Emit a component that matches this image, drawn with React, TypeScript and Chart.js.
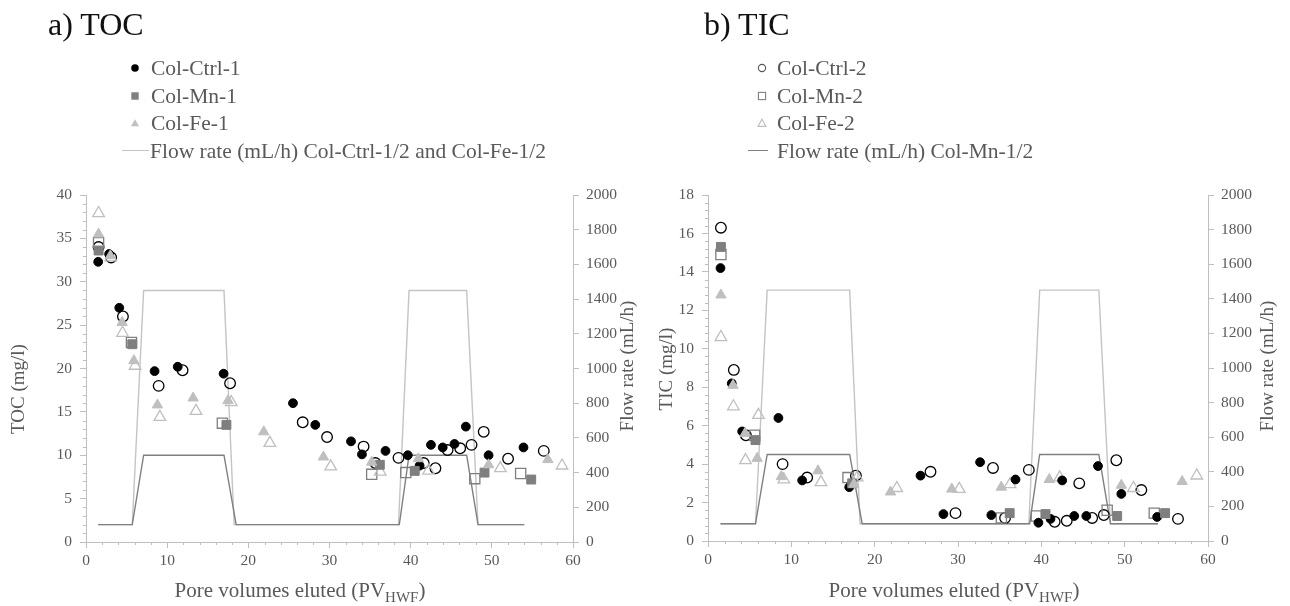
import React, { useEffect, useRef } from "react";
import { Chart, registerables } from "chart.js";

Chart.register(...registerables);

const FONT = "'Liberation Serif', 'Times New Roman', serif";
const TEXT_GREY = "#595959";
const AXIS_GREY = "#bfbfbf";
const BLACK = "#000000";
const MID_GREY = "#7f7f7f";
const LIGHT_GREY = "#bfbfbf";

// ---------- data: pore volumes eluted (x) and concentrations ----------
const ctrl1X = [1.5, 2.85, 4.1, 8.45, 11.3, 16.95, 25.5, 28.25, 32.65, 34.0, 36.9, 39.65, 41.1, 42.5, 43.95, 45.4, 46.8, 49.6, 53.9];
const ctrl1TOC = [32.3, 33.2, 27.0, 19.7, 20.2, 19.4, 16.0, 13.5, 11.6, 10.1, 10.5, 10.0, 8.8, 11.2, 10.9, 11.3, 13.3, 10.0, 10.9];
const ctrl1TIC = [14.2, 8.2, 5.7, 6.4, 3.15, 2.8, 3.4, 1.4, 4.1, 1.35, 3.2, 0.95, 1.15, 3.15, 1.3, 1.3, 3.9, 2.45, 1.25];

const ctrl2X = [1.55, 3.1, 4.55, 8.95, 11.9, 17.75, 26.7, 29.7, 34.2, 35.65, 38.5, 41.6, 43.05, 44.55, 46.1, 47.5, 49.0, 52.0, 56.4];
const ctrl2TOC = [34.0, 32.8, 26.0, 18.0, 19.8, 18.3, 13.8, 12.1, 11.0, 9.1, 9.7, 9.1, 8.5, 10.6, 10.8, 11.2, 12.7, 9.6, 10.5];
const ctrl2TIC = [16.3, 8.9, 5.5, 4.0, 3.3, 3.4, 3.6, 1.45, 3.8, 1.2, 3.7, 1.0, 1.05, 3.0, 1.2, 1.35, 4.2, 2.65, 1.15];

const mn1X = [1.55, 5.7, 17.3, 36.2, 40.5, 49.1, 54.85];
const mn1TOC = [33.6, 22.8, 13.5, 8.9, 8.2, 8.0, 7.2];
const mn1TIC = [15.3, 5.25, 3.0, 1.45, 1.4, 1.3, 1.45];

const mn2X = [1.55, 5.6, 16.8, 35.2, 39.4, 47.9, 53.55];
const mn2TOC = [34.5, 23.0, 13.7, 7.8, 8.0, 7.3, 7.9];
const mn2TIC = [14.9, 5.5, 3.3, 1.2, 1.3, 1.6, 1.45];

const fe1X = [1.55, 3.0, 4.45, 5.9, 8.8, 13.2, 17.5, 21.9, 29.25, 35.2, 40.95, 49.6, 56.9];
const fe1TOC = [35.5, 33.0, 25.3, 20.9, 15.8, 16.6, 16.3, 12.7, 9.8, 9.2, 9.6, 8.9, 9.5];
const fe1TIC = [12.8, 8.1, 5.6, 4.3, 3.35, 3.65, 2.95, 2.55, 2.7, 2.8, 3.2, 2.9, 3.1];

const fe2X = [1.55, 3.05, 4.5, 6.05, 9.1, 13.55, 17.9, 22.65, 30.15, 36.25, 42.2, 51.05, 58.65];
const fe2TOC = [37.9, 32.8, 24.1, 20.3, 14.4, 15.1, 16.1, 11.4, 8.7, 8.1, 8.2, 8.5, 8.8];
const fe2TIC = [10.6, 7.0, 4.2, 6.55, 3.2, 3.05, 3.3, 2.75, 2.7, 2.95, 3.3, 2.75, 3.4];

// flow rates (mL/h)
const flowCtrlFeX = [1.5, 5.7, 7.1, 17.0, 18.25, 38.5, 39.8, 46.9, 48.3, 54.0];
const flowCtrlFe = [100, 100, 1450, 1450, 100, 100, 1450, 1450, 100, 100];
const flowMnX = [1.5, 5.7, 7.1, 17.0, 18.5, 38.6, 39.8, 46.9, 48.3, 54.0];
const flowMn = [100, 100, 500, 500, 100, 100, 500, 500, 100, 100];

// ticks
const pvTicks = [0, 10, 20, 30, 40, 50, 60];
const tocTicks = [0, 5, 10, 15, 20, 25, 30, 35, 40];
const ticTicks = [0, 2, 4, 6, 8, 10, 12, 14, 16, 18];
const flowTicks = [0, 200, 400, 600, 800, 1000, 1200, 1400, 1600, 1800, 2000];

// legends
const legendLeft = ["Col-Ctrl-1", "Col-Mn-1", "Col-Fe-1", "Flow rate (mL/h) Col-Ctrl-1/2 and Col-Fe-1/2"];
const legendRight = ["Col-Ctrl-2", "Col-Mn-2", "Col-Fe-2", "Flow rate (mL/h) Col-Mn-1/2"];

type Key = "toc" | "tic";

const seriesDefs = [
  { label: "Col-Ctrl-2", x: ctrl2X, toc: ctrl2TOC, tic: ctrl2TIC, style: "circle", fill: "rgba(255,255,255,0)", stroke: BLACK, r: 5.3, bw: 1.3, order: 6 },
  { label: "Col-Mn-2", x: mn2X, toc: mn2TOC, tic: mn2TIC, style: "rect", fill: "rgba(255,255,255,0)", stroke: MID_GREY, r: 7.2, bw: 1.3, order: 5 },
  { label: "Col-Fe-2", x: fe2X, toc: fe2TOC, tic: fe2TIC, style: "triangle", fill: "rgba(255,255,255,0)", stroke: LIGHT_GREY, r: 6.7, bw: 1.3, order: 4 },
  { label: "Col-Ctrl-1", x: ctrl1X, toc: ctrl1TOC, tic: ctrl1TIC, style: "circle", fill: BLACK, stroke: BLACK, r: 4.4, bw: 1, order: 3 },
  { label: "Col-Mn-1", x: mn1X, toc: mn1TOC, tic: mn1TIC, style: "rect", fill: MID_GREY, stroke: MID_GREY, r: 6.3, bw: 1, order: 2 },
  { label: "Col-Fe-1", x: fe1X, toc: fe1TOC, tic: fe1TIC, style: "triangle", fill: LIGHT_GREY, stroke: LIGHT_GREY, r: 6, bw: 1, order: 1 },
];

type PanelCfg = {
  key: Key;
  yTicks: number[];
  yMax: number;
  yMinor: number;
  yLabel: string;
  leftW: number;
  rightW: number;
  bottomH: number;
  yTitle: [number, number];
  y1Title: [number, number];
  xTitleX: number;
};

const leftPanel: PanelCfg = {
  key: "toc", yTicks: tocTicks, yMax: 40, yMinor: 1, yLabel: "TOC (mg/l)",
  leftW: 86, rightW: 72, bottomH: 64,
  yTitle: [19, 389], y1Title: [628, 366], xTitleX: 300,
};
const rightPanel: PanelCfg = {
  key: "tic", yTicks: ticTicks, yMax: 18, yMinor: 0.4, yLabel: "TIC (mg/l)",
  leftW: 63, rightW: 82, bottomH: 65,
  yTitle: [22, 369], y1Title: [623, 366], xTitleX: 309,
};

function toXY(xs: number[], ys: number[]) {
  return xs.map((x, i) => ({ x, y: ys[i] }));
}

function buildChart(canvas: HTMLCanvasElement, cfg: PanelCfg) {
  const datasets: any[] = [
    {
      label: "flowCtrlFe", data: toXY(flowCtrlFeX, flowCtrlFe), yAxisID: "y1", showLine: true,
      borderColor: "#c4c4c4", borderWidth: 1.4, pointRadius: 0, fill: false, tension: 0, order: 11,
    },
    {
      label: "flowMn", data: toXY(flowMnX, flowMn), yAxisID: "y1", showLine: true,
      borderColor: "#808080", borderWidth: 1.4, pointRadius: 0, fill: false, tension: 0, order: 10,
    },
    ...seriesDefs.map((s) => ({
      label: s.label,
      data: toXY(s.x, (s as any)[cfg.key]),
      yAxisID: "y",
      showLine: false,
      pointStyle: s.style,
      pointRadius: s.r,
      pointBorderWidth: s.bw,
      backgroundColor: s.fill,
      borderColor: s.stroke,
      pointBackgroundColor: s.fill,
      pointBorderColor: s.stroke,
      order: s.order,
    })),
  ];

  const tickFont = { family: FONT, size: 15.5 };
  const plain = (v: any) => String(v);

  const decor = {
    id: "decor",
    afterDraw(chart: any) {
      const ctx = chart.ctx as CanvasRenderingContext2D;
      const xs = chart.scales.x;
      const ys = chart.scales.y;
      ctx.save();
      // minor ticks
      ctx.strokeStyle = AXIS_GREY;
      ctx.lineWidth = 1;
      ctx.beginPath();
      const nY = Math.round(cfg.yMax / cfg.yMinor);
      for (let i = 0; i <= nY; i++) {
        const v = i * cfg.yMinor;
        if (cfg.yTicks.some((t) => Math.abs(t - v) < 1e-6)) continue;
        const py = Math.round(ys.getPixelForValue(v)) + 0.5;
        ctx.moveTo(ys.right - 3, py);
        ctx.lineTo(ys.right, py);
      }
      for (let v = 0; v <= 60; v += 2) {
        if (v % 10 === 0) continue;
        const px = Math.round(xs.getPixelForValue(v)) + 0.5;
        ctx.moveTo(px, xs.top);
        ctx.lineTo(px, xs.top + 3);
      }
      ctx.stroke();

      // axis titles
      ctx.fillStyle = TEXT_GREY;
      ctx.textAlign = "center";
      ctx.textBaseline = "middle";
      ctx.font = `19px ${FONT}`;
      ctx.save();
      ctx.translate(cfg.yTitle[0], cfg.yTitle[1]);
      ctx.rotate(-Math.PI / 2);
      ctx.fillText(cfg.yLabel, 0, 0);
      ctx.restore();
      ctx.save();
      ctx.translate(cfg.y1Title[0], cfg.y1Title[1]);
      ctx.rotate(-Math.PI / 2);
      ctx.fillText("Flow rate (mL/h)", 0, 0);
      ctx.restore();

      // x title with subscript
      const main = "Pore volumes eluted (PV";
      const sub = "HWF";
      const end = ")";
      const big = `21px ${FONT}`;
      const small = `15px ${FONT}`;
      ctx.font = big;
      const w1 = ctx.measureText(main).width;
      const w3 = ctx.measureText(end).width;
      ctx.font = small;
      const w2 = ctx.measureText(sub).width;
      let x = cfg.xTitleX - (w1 + w2 + w3) / 2;
      const base = 597;
      ctx.textAlign = "left";
      ctx.textBaseline = "alphabetic";
      ctx.font = big;
      ctx.fillText(main, x, base);
      x += w1;
      ctx.font = small;
      ctx.fillText(sub, x, base + 5);
      x += w2;
      ctx.font = big;
      ctx.fillText(end, x, base);
      ctx.restore();
    },
  };

  return new Chart(canvas, {
    type: "scatter",
    data: { datasets },
    plugins: [decor],
    options: {
      responsive: false,
      animation: false,
      events: [],
      layout: { padding: { top: 195, left: 0, right: 0, bottom: 0 } },
      plugins: {
        legend: { display: false },
        tooltip: { enabled: false },
        title: { display: false },
      },
      scales: {
        x: {
          type: "linear",
          min: 0,
          max: 60,
          afterBuildTicks: (s: any) => { s.ticks = pvTicks.map((v) => ({ value: v })); },
          afterFit: (s: any) => { s.height = cfg.bottomH; },
          ticks: { color: TEXT_GREY, font: tickFont, padding: 4, maxRotation: 0, autoSkip: false, callback: plain },
          grid: { drawOnChartArea: false, drawTicks: true, tickLength: 6, tickColor: AXIS_GREY, color: AXIS_GREY },
          border: { color: AXIS_GREY, width: 1 },
        },
        y: {
          type: "linear",
          position: "left",
          min: 0,
          max: cfg.yMax,
          afterBuildTicks: (s: any) => { s.ticks = cfg.yTicks.map((v) => ({ value: v })); },
          afterFit: (s: any) => { s.width = cfg.leftW; },
          ticks: { color: TEXT_GREY, font: tickFont, padding: 8, autoSkip: false, callback: plain },
          grid: { drawOnChartArea: false, drawTicks: true, tickLength: 6, tickColor: AXIS_GREY, color: AXIS_GREY },
          border: { color: AXIS_GREY, width: 1 },
        },
        y1: {
          type: "linear",
          position: "right",
          min: 0,
          max: 2000,
          afterBuildTicks: (s: any) => { s.ticks = flowTicks.map((v) => ({ value: v })); },
          afterFit: (s: any) => { s.width = cfg.rightW; },
          ticks: { color: TEXT_GREY, font: tickFont, padding: 7, autoSkip: false, callback: plain },
          grid: { drawOnChartArea: false, drawTicks: true, tickLength: 6, tickColor: AXIS_GREY, color: AXIS_GREY },
          border: { color: AXIS_GREY, width: 1 },
        },
      },
    } as any,
  });
}

function Marker({ kind }: { kind: string }) {
  const common = { width: 12, height: 12, viewBox: "0 0 12 12" };
  switch (kind) {
    case "fc": return <svg {...common}><circle cx="6" cy="6" r="3.8" fill={BLACK} /></svg>;
    case "fs": return <svg {...common}><rect x="2.3" y="2.3" width="7.4" height="7.4" fill={MID_GREY} /></svg>;
    case "ft": return <svg {...common}><polygon points="6,2.2 10,9.2 2,9.2" fill={LIGHT_GREY} /></svg>;
    case "oc": return <svg {...common}><circle cx="6" cy="6" r="3.6" fill="none" stroke="#555" strokeWidth="1.1" /></svg>;
    case "os": return <svg {...common}><rect x="2.4" y="2.4" width="7.2" height="7.2" fill="none" stroke={MID_GREY} strokeWidth="1.1" /></svg>;
    case "ot": return <svg {...common}><polygon points="6,2.2 10,9.4 2,9.4" fill="none" stroke={LIGHT_GREY} strokeWidth="1.1" /></svg>;
    default: return null;
  }
}

function Legend({ labels, kinds, markerX, textX, lineX0, lineX1, lineColor, flowTextX }: any) {
  const rows = [68, 95.5, 123, 150.5];
  return (
    <>
      {labels.map((lab: string, i: number) => (
        <React.Fragment key={lab}>
          {i < 3 ? (
            <div style={{ position: "absolute", left: markerX - 6, top: rows[i] - 6, width: 12, height: 12, lineHeight: 0 }}>
              <Marker kind={kinds[i]} />
            </div>
          ) : (
            <div style={{ position: "absolute", left: lineX0, top: rows[i] - 0.5, width: lineX1 - lineX0, height: 1, background: lineColor }} />
          )}
          <div
            style={{
              position: "absolute",
              left: i < 3 ? textX : flowTextX,
              top: rows[i] - 13,
              fontFamily: FONT,
              fontSize: 21.5,
              lineHeight: "26px",
              color: TEXT_GREY,
              whiteSpace: "nowrap",
            }}
          >
            {lab}
          </div>
        </React.Fragment>
      ))}
    </>
  );
}

export default function App() {
  const leftRef = useRef<HTMLCanvasElement>(null);
  const rightRef = useRef<HTMLCanvasElement>(null);

  useEffect(() => {
    const c1 = buildChart(leftRef.current as HTMLCanvasElement, leftPanel);
    const c2 = buildChart(rightRef.current as HTMLCanvasElement, rightPanel);
    return () => {
      c1.destroy();
      c2.destroy();
    };
  }, []);

  const titleStyle: React.CSSProperties = {
    position: "absolute",
    top: 5,
    fontFamily: FONT,
    fontSize: 32,
    lineHeight: "38px",
    color: "#111",
    whiteSpace: "nowrap",
  };

  return (
    <div style={{ position: "absolute", left: 0, top: 0, width: 1290, height: 606, background: "#ffffff", overflow: "hidden" }}>
      <canvas ref={leftRef} width={645} height={606} style={{ position: "absolute", left: 0, top: 0, width: 645, height: 606 }} />
      <canvas ref={rightRef} width={645} height={606} style={{ position: "absolute", left: 645, top: 0, width: 645, height: 606 }} />
      <div style={{ ...titleStyle, left: 48 }}>a) TOC</div>
      <div style={{ ...titleStyle, left: 704 }}>b) TIC</div>
      <Legend
        labels={legendLeft}
        kinds={["fc", "fs", "ft"]}
        markerX={135}
        textX={151}
        lineX0={122}
        lineX1={149}
        lineColor="#c4c4c4"
        flowTextX={150}
      />
      <Legend
        labels={legendRight}
        kinds={["oc", "os", "ot"]}
        markerX={762}
        textX={777}
        lineX0={748}
        lineX1={768}
        lineColor="#808080"
        flowTextX={777}
      />
    </div>
  );
}
